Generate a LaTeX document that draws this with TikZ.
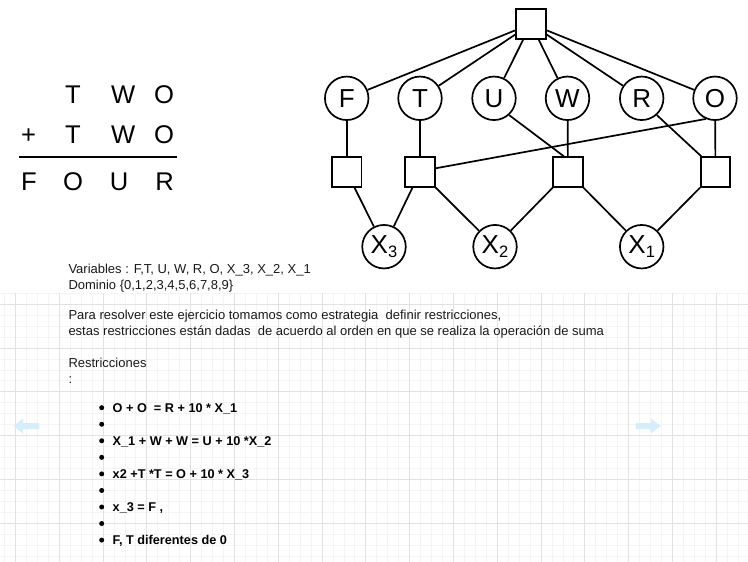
\documentclass[tikz,border=0pt]{standalone}
\usepackage{fontspec}
\setmainfont{Liberation Sans}
\definecolor{gminor}{HTML}{F4F4F4}
\definecolor{gmajor}{HTML}{E2E2E2}
\definecolor{arrowblue}{HTML}{D6EEF9}
\definecolor{txtcol}{HTML}{1A1A1A}
\begin{document}
\begin{tikzpicture}[x=1pt,y=-1pt,
  vc/.style={circle,draw,line width=1.7pt,minimum size=43.5pt,inner sep=0pt,font=\fontsize{26}{26}\selectfont},
  fc/.style={rectangle,draw,line width=1.7pt,minimum size=29.5pt,inner sep=0pt},
  edge/.style={line width=1.7pt},
  big/.style={font=\fontsize{25.6}{26}\selectfont,inner sep=0pt,anchor=base},
  txt/.style={font=\fontsize{13}{16}\selectfont,inner sep=0pt,anchor=base west,text=txtcol},
  btxt/.style={font=\fontsize{12.7}{16}\selectfont\bfseries,inner sep=0pt,anchor=base west},
  bul/.style={circle,fill=black,inner sep=0pt,minimum size=5pt},
  gmin/.style={gminor,line width=0.8pt},
  gmaj/.style={gmajor,line width=0.9pt}
  ]
\useasboundingbox (0,0) rectangle (748,562);
\fill[white] (0,0) rectangle (748,562);
% grid
\foreach \i in {0,...,67} {\draw[gmin] ({4.45+10.95*\i},293.25) -- ({4.45+10.95*\i},562);}
\foreach \j in {0,...,24} {\draw[gmin] (0,{293.25+10.95*\j}) -- (748,{293.25+10.95*\j});}
\foreach \i in {0,...,16} {\draw[gmaj] ({15.4+43.8*\i},293.25) -- ({15.4+43.8*\i},562);}
\foreach \j in {0,...,5} {\draw[gmaj] (0,{304.2+43.8*\j}) -- (748,{304.2+43.8*\j});}
% pale navigation arrows
\fill[arrowblue] (13.5,426) -- (23,418.5) -- (23,423) -- (39,423) -- (39,429) -- (23,429) -- (23,433.5) -- cycle;
\fill[arrowblue] (660.5,426) -- (651,418.5) -- (651,423) -- (635.5,423) -- (635.5,429) -- (651,429) -- (651,433.5) -- cycle;

% TWO + TWO = FOUR
\node[big] (t1) at (73,103.3) {T};
\node[big] (w1) at (123.3,103.3) {W};
\node[big] (o1) at (164,103.3) {O};
\node[big] (plus) at (28.7,143.3) {+};
\node[big] (t2) at (73,143.3) {T};
\node[big] (w2) at (123.3,143.3) {W};
\node[big] (o2) at (164,143.3) {O};
\coordinate (ls) at (19.3,157.3);
\coordinate (le) at (176.7,157.3);
\draw[line width=2.2pt] (ls) -- (le);
\node[big] (f3) at (29,190) {F};
\node[big] (o3) at (73,190) {O};
\node[big] (u3) at (119,190) {U};
\node[big] (r3) at (164.5,190) {R};

% constraint graph
\node[fc] (top) at (531,24) {};
\node[vc] (F) at (346.7,98.3) {F};
\node[vc] (T) at (420,98.3) {T};
\node[vc] (U) at (494,98.3) {U};
\node[vc] (W) at (567.5,98.3) {W};
\node[vc] (R) at (641.7,98.3) {R};
\node[vc] (O) at (715,98.3) {O};
\node[fc] (s1) at (346.7,172) {};
\node[fc] (s2) at (420,172) {};
\node[fc] (s3) at (568,172) {};
\node[fc] (s4) at (715.5,172) {};
\node[vc] (X3) at (384,246.7) {X\raisebox{-3.5pt}{\fontsize{16.5}{16.5}\selectfont 3}};
\node[vc] (X2) at (495,246.7) {X\raisebox{-3.5pt}{\fontsize{16.5}{16.5}\selectfont 2}};
\node[vc] (X1) at (641.7,246.7) {X\raisebox{-3.5pt}{\fontsize{16.5}{16.5}\selectfont 1}};
\foreach \v in {F,T,U,W,R,O} {\draw[edge] (top) -- (\v);}
\draw[edge] (F) -- (s1);
\draw[edge] (T) -- (s2);
\draw[edge] (W) -- (s3);
\draw[edge] (O) -- (s4);
\draw[edge] (U.-48) -- ([xshift=-4pt]s3.north);
\draw[edge] (R.-48) -- ([xshift=1.5pt]s4.north west);
\draw[edge] (O.-114) -- ([yshift=3.7pt]s2.east);
\draw[edge] (s1) -- (X3);
\draw[edge] (s2) -- (X3);
\draw[edge] (s2) -- (X2);
\draw[edge] (s3) -- (X2);
\draw[edge] (s3) -- (X1);
\draw[edge] (s4) -- (X1);

% text
\node[txt] (vars) at (68.3,273) {Variables : F,T, U, W, R, O, X\_3, X\_2, X\_1};
\node[txt] (dom) at (68.3,289.5) {Dominio \{0,1,2,3,4,5,6,7,8,9\}};
\node[txt] (p1) at (68.3,319.3) {Para resolver este ejercicio tomamos como estrategia\ \ definir restricciones,};
\node[txt] (p2) at (68.3,335.8) {estas restricciones están dadas\ \ de acuerdo al orden en que se realiza la operación de suma};
\node[txt] (rest) at (68.3,367) {Restricciones};
\node[txt] (colon) at (68.3,383.3) {:};

% bullets
\foreach \k in {0,...,8} {\node[bul] (b\k) at (101.7,{407.7+16.55*\k}) {};}
\node[btxt] (c1) at (112.5,412.2) {O + O\ \ = R + 10 * X\_1};
\node[btxt] (c2) at (112.5,445.3) {X\_1 + W + W = U + 10 *X\_2};
\node[btxt] (c3) at (112.5,478.4) {x2 +T *T = O + 10 * X\_3};
\node[btxt] (c4) at (112.5,511.5) {x\_3 = F ,};
\node[btxt] (c5) at (112.5,544.6) {F, T diferentes de 0};
\end{tikzpicture}
\end{document}
